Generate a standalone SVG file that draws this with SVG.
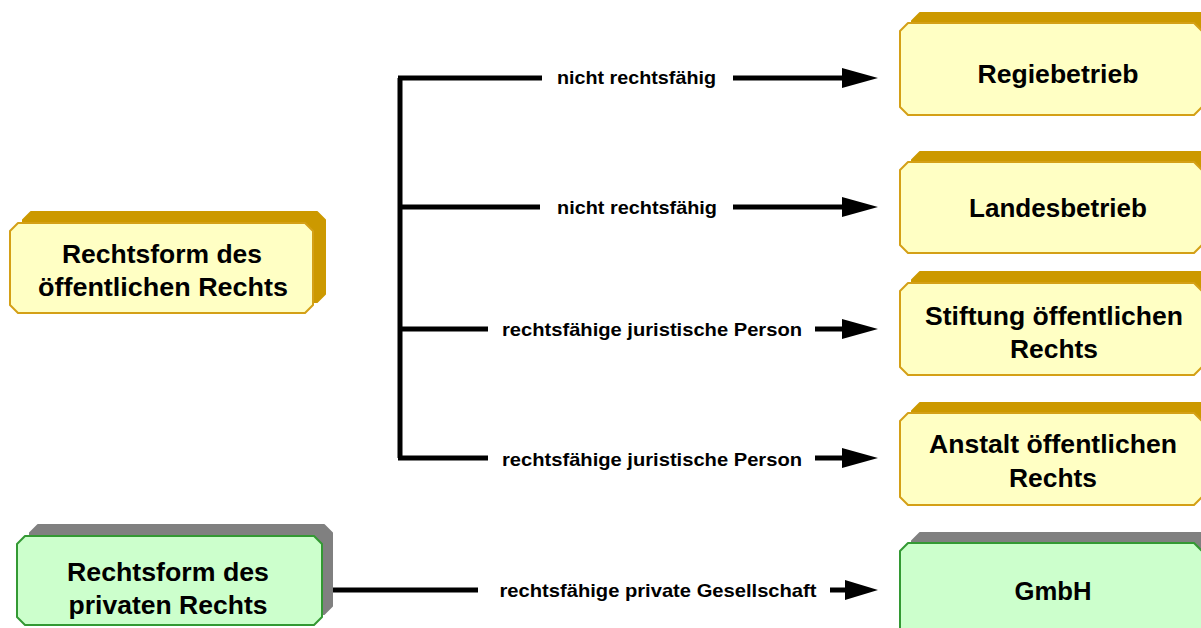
<svg xmlns="http://www.w3.org/2000/svg" width="1201" height="628" viewBox="0 0 1201 628">
<style>
.yf{fill:#ffffc4;stroke:#d4a017;stroke-width:2;stroke-linejoin:round}
.ys{fill:#cc9900;stroke:#cc9900;stroke-width:2;stroke-linejoin:round}
.gf{fill:#ccffcc;stroke:#339933;stroke-width:2;stroke-linejoin:round}
.gs{fill:#808080;stroke:#808080;stroke-width:2;stroke-linejoin:round}
.nt{font-family:"Liberation Sans",Arial,sans-serif;font-weight:bold;font-size:25px;fill:#000;text-anchor:middle}
.lt{font-family:"Liberation Sans",Arial,sans-serif;font-weight:bold;font-size:18.5px;fill:#000;text-anchor:middle}
.ln{stroke:#000;stroke-width:5;fill:none}
.ah{fill:#000}
</style>
<rect width="1201" height="628" fill="#fff"/>

<g id="connectors">
  <path class="ln" d="M400,78 V458"/>
  <path class="ln" d="M398,78 H542 M733,78 H845"/>
  <polygon class="ah" points="842,68 878,78 842,88"/>
  <path class="ln" d="M400,207 H540 M733,207 H845"/>
  <polygon class="ah" points="842,197 878,207 842,217"/>
  <path class="ln" d="M400,329 H488 M815,329 H845"/>
  <polygon class="ah" points="842,319 878,329 842,339"/>
  <path class="ln" d="M398,458 H488 M815,458 H845"/>
  <polygon class="ah" points="842,448 878,458 842,468"/>
  <path class="ln" d="M332,590 H478 M830,590 H848"/>
  <polygon class="ah" points="845,580 878,590 845,600"/>
  <text class="lt" x="636.5" y="84" textLength="159" lengthAdjust="spacingAndGlyphs">nicht rechtsfähig</text>
  <text class="lt" x="637" y="214" textLength="160" lengthAdjust="spacingAndGlyphs">nicht rechtsfähig</text>
  <text class="lt" x="652" y="336" textLength="300" lengthAdjust="spacingAndGlyphs">rechtsfähige juristische Person</text>
  <text class="lt" x="652" y="466" textLength="300" lengthAdjust="spacingAndGlyphs">rechtsfähige juristische Person</text>
  <text class="lt" x="658" y="597" textLength="317" lengthAdjust="spacingAndGlyphs">rechtsfähige private Gesellschaft</text>
</g>

<g id="node-oeffentlich">
  <path class="ys" d="M31,212 H317 L325,220 V294 L317,302 H31 L23,294 V220 Z"/>
  <path class="yf" d="M18,223 H305 L313,231 V305 L305,313 H18 L10,305 V231 Z"/>
  <text class="nt" x="162" y="263" textLength="200" lengthAdjust="spacingAndGlyphs">Rechtsform des</text>
  <text class="nt" x="163" y="296" textLength="250" lengthAdjust="spacingAndGlyphs">öffentlichen Rechts</text>
</g>

<g id="node-privat">
  <path class="gs" d="M38,525 H324 L332,533 V606 L324,614 H38 L30,606 V533 Z"/>
  <path class="gf" d="M25,536 H314 L322,544 V617 L314,625 H25 L17,617 V544 Z"/>
  <text class="nt" x="168" y="581" textLength="202" lengthAdjust="spacingAndGlyphs">Rechtsform des</text>
  <text class="nt" x="168" y="614" textLength="199" lengthAdjust="spacingAndGlyphs">privaten Rechts</text>
</g>

<g id="node-regiebetrieb">
  <path class="ys" d="M920,13 H1215 V105 H920 L912,97 V21 Z"/>
  <path class="yf" d="M908,23 H1194 L1202,31 V107 L1194,115 H908 L900,107 V31 Z"/>
  <text class="nt" x="1058" y="83" textLength="161" lengthAdjust="spacingAndGlyphs">Regiebetrieb</text>
</g>

<g id="node-landesbetrieb">
  <path class="ys" d="M920,152 H1215 V244 H920 L912,236 V160 Z"/>
  <path class="yf" d="M908,162 H1194 L1202,170 V245 L1194,253 H908 L900,245 V170 Z"/>
  <text class="nt" x="1058" y="217" textLength="178" lengthAdjust="spacingAndGlyphs">Landesbetrieb</text>
</g>

<g id="node-stiftung">
  <path class="ys" d="M920,272 H1215 V364 H920 L912,356 V280 Z"/>
  <path class="yf" d="M908,283 H1194 L1202,291 V367 L1194,375 H908 L900,367 V291 Z"/>
  <text class="nt" x="1054" y="325" textLength="258" lengthAdjust="spacingAndGlyphs">Stiftung öffentlichen</text>
  <text class="nt" x="1054" y="358" textLength="88" lengthAdjust="spacingAndGlyphs">Rechts</text>
</g>

<g id="node-anstalt">
  <path class="ys" d="M920,403 H1215 V495 H920 L912,487 V411 Z"/>
  <path class="yf" d="M908,413 H1194 L1202,421 V497 L1194,505 H908 L900,497 V421 Z"/>
  <text class="nt" x="1053" y="453" textLength="248" lengthAdjust="spacingAndGlyphs">Anstalt öffentlichen</text>
  <text class="nt" x="1053" y="487" textLength="88" lengthAdjust="spacingAndGlyphs">Rechts</text>
</g>

<g id="node-gmbh">
  <path class="gs" d="M920,533 H1215 V640 H920 L912,632 V541 Z"/>
  <path class="gf" d="M908,543 H1194 L1202,551 V640 H900 V551 Z"/>
  <text class="nt" x="1053" y="600" textLength="77" lengthAdjust="spacingAndGlyphs">GmbH</text>
</g>
</svg>
